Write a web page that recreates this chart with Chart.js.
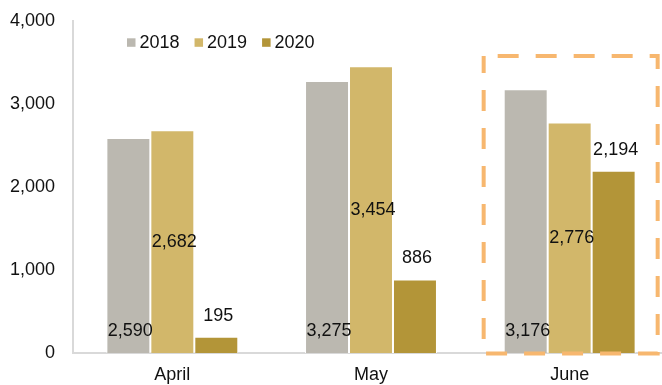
<!DOCTYPE html>
<html>
<head>
<meta charset="utf-8">
<script src="https://cdn.jsdelivr.net/npm/chart.js@4.4.1/dist/chart.umd.min.js"></script>
<style>
    html, body { margin: 0; padding: 0; background: #fff; overflow: hidden; }
    #containGrafico { width: 662px; height: 385px; overflow: hidden; position: relative; }
    #grafico { position: absolute; left: 0; top: -8px; }
</style>
</head>
<body>
<div id="containGrafico"><canvas id="grafico" width="669" height="393"></canvas></div>
<script>
const meses = ['April', 'May', 'June'];
const anos = ['2018', '2019', '2020'];
const valores2018 = [2590, 3275, 3176];
const valores2019 = [2682, 3454, 2776];
const valores2020 = [195, 886, 2194];
const ticksY = [0, 1000, 2000, 3000, 4000];
const mesDestaque = 'June';

const cores = ['#bbb8b0', '#d2b76a', '#b39538'];
const fonte = "'Liberation Sans', Arial, sans-serif";

Chart.defaults.font.family = fonte;
Chart.defaults.font.size = 18;
Chart.defaults.color = '#111';

// legend drawn inside the plot area, above the bars
const legendaInterna = {
    id: 'legendaInterna',
    afterDraw(chart, args, opts) {
        const ctx = chart.ctx;
        let x = chart.chartArea.left + opts.x;
        const y = chart.chartArea.top + opts.y;
        ctx.save();
        ctx.font = `18px ${fonte}`;
        ctx.textBaseline = 'middle';
        chart.data.datasets.forEach(function (ds) {
            ctx.fillStyle = ds.backgroundColor;
            ctx.fillRect(x, y - 4.5, 8.5, 8.5);
            x += 12.5;
            ctx.fillStyle = '#111';
            ctx.fillText(ds.label, x, y);
            x += ctx.measureText(ds.label).width + 15;
        });
        ctx.restore();
    }
};

// value labels: 2018 near the base, 2019 mid-bar, 2020 above the bar
const rotulos = {
    id: 'rotulos',
    afterDatasetsDraw(chart, args, opts) {
        const ctx = chart.ctx;
        ctx.save();
        ctx.font = `18px ${fonte}`;
        ctx.fillStyle = '#111';
        ctx.textAlign = 'center';
        ctx.textBaseline = 'middle';
        chart.data.datasets.forEach(function (ds, i) {
            const meta = chart.getDatasetMeta(i);
            meta.data.forEach(function (bar, j) {
                let y;
                if (opts.anchor[i] == 'base') {
                    y = bar.base - 22;
                } else if (opts.anchor[i] == 'middle') {
                    y = (bar.y + bar.base) / 2;
                } else {
                    y = bar.y - 21;
                }
                ctx.fillText(ds.data[j].toLocaleString('en-US'), bar.x + 2, y);
            });
        });
        ctx.restore();
    }
};

// dashed frame around the highlighted month
const destaque = {
    id: 'destaque',
    afterDraw(chart, args, opts) {
        const xs = chart.scales.x;
        const ys = chart.scales.y;
        const centro = xs.getPixelForValue(meses.indexOf(mesDestaque));
        const esq = centro - 86;
        const dir = centro + 88;
        const topo = ys.getPixelForValue(opts.topo);
        const base = ys.getPixelForValue(0) + 0.5;
        const ctx = chart.ctx;
        ctx.save();
        ctx.strokeStyle = '#f7b76f';
        ctx.lineWidth = 4;
        ctx.setLineDash([21, 17]);
        ctx.lineDashOffset = -14;
        ctx.beginPath();
        ctx.moveTo(esq, topo);
        ctx.lineTo(dir, topo);
        ctx.lineTo(dir, base);
        ctx.lineTo(esq, base);
        ctx.closePath();
        ctx.stroke();
        ctx.restore();
    }
};

new Chart('grafico', {
    type: 'bar',
    data: {
        labels: meses,
        datasets: [
            { label: anos[0], data: valores2018, backgroundColor: cores[0] },
            { label: anos[1], data: valores2019, backgroundColor: cores[1] },
            { label: anos[2], data: valores2020, backgroundColor: cores[2] }
        ]
    },
    options: {
        responsive: false,
        animation: false,
        layout: { padding: { top: 12, left: 0, right: 0, bottom: 0 } },
        datasets: {
            bar: {
                categoryPercentage: 0.664,
                barPercentage: 1,
                borderWidth: 1,
                borderColor: '#ffffff'
            }
        },
        scales: {
            x: {
                grid: { display: false, drawTicks: false },
                border: { display: true, color: '#d9d9d9', width: 2 },
                ticks: { padding: 11 },
                afterFit(scale) { scale.height = 32; }
            },
            y: {
                min: 0,
                max: ticksY[ticksY.length - 1],
                afterBuildTicks(scale) {
                    scale.ticks = ticksY.map(function (v) { return { value: v }; });
                },
                grid: { display: false, drawTicks: false },
                border: { display: true, color: '#d9d9d9', width: 2 },
                ticks: {
                    padding: 18,
                    callback: function (v) { return v.toLocaleString('en-US'); }
                },
                afterFit(scale) { scale.width = 73; }
            }
        },
        plugins: {
            legend: { display: false },
            tooltip: { enabled: false },
            legendaInterna: { x: 54, y: 22 },
            rotulos: { anchor: ['base', 'middle', 'end'] },
            destaque: { topo: 3575 }
        }
    },
    plugins: [legendaInterna, rotulos, destaque]
});
</script>
</body>
</html>
